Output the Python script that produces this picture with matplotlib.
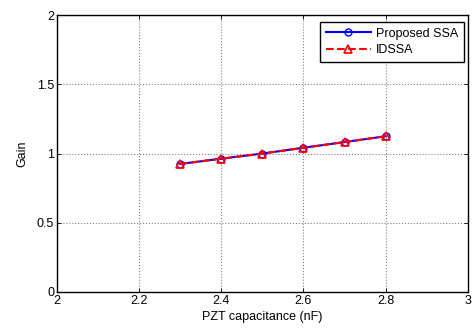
import numpy as np
import matplotlib.pyplot as plt

plt.rcParams['font.family'] = ['Liberation Sans', 'DejaVu Sans']

# data
cap = [2.3, 2.4, 2.5, 2.6, 2.7, 2.8]
gain_ssa = [0.925, 0.963, 1.0, 1.042, 1.083, 1.125]
gain_idssa = [0.925, 0.963, 1.0, 1.042, 1.083, 1.125]
xticks = [2, 2.2, 2.4, 2.6, 2.8, 3]
yticks = [0, 0.5, 1, 1.5, 2]

fig = plt.figure(figsize=(4.73, 3.29), dpi=100)
ax = fig.add_axes([0.1205, 0.1125, 0.8685, 0.8415])

ax.plot(cap, gain_ssa, color="blue", marker="o", markersize=5,
        markerfacecolor="none", markeredgewidth=1, linewidth=1.5, label="Proposed SSA")
ax.plot(cap, gain_idssa, color="red", marker="^", markersize=6,
        markerfacecolor="none", markeredgewidth=1.2, linewidth=1.5, linestyle="--", label="IDSSA")

ax.set_xlim(2, 3)
ax.set_ylim(0, 2)
ax.set_xticks(xticks)
ax.set_xticklabels([f"{t:g}" for t in xticks])
ax.set_yticks(yticks)
ax.set_yticklabels([f"{t:g}" for t in yticks])
ax.tick_params(labelsize=9, direction="in", length=3, width=0.6,
               top=True, right=True, pad=2)
ax.grid(True, color="#808080", linestyle=":", linewidth=0.8)
for s in ax.spines.values():
    s.set_linewidth(1.0)

ax.set_xlabel("PZT capacitance (nF)", fontsize=9, labelpad=3)
ax.set_ylabel("Gain", fontsize=9, labelpad=6)

leg = ax.legend(loc="upper right", fontsize=9, fancybox=False, framealpha=1,
                edgecolor="black", bbox_to_anchor=(0.99, 0.975), borderaxespad=0,
                handlelength=3.6, borderpad=0.45, labelspacing=0.35, handletextpad=0.4)
leg.get_frame().set_linewidth(1.0)

fig.savefig("out.png", dpi=100)
